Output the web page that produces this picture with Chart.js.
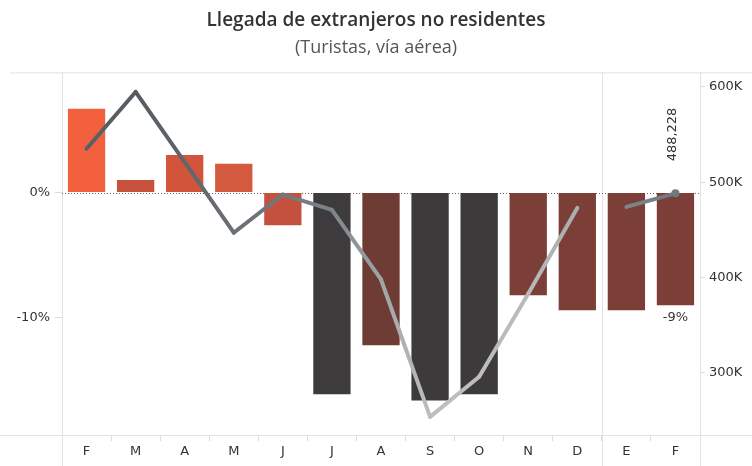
<!DOCTYPE html>
<html>
<head>
<meta charset="utf-8">
<script src="https://cdn.jsdelivr.net/npm/chart.js@4.4.4/dist/chart.umd.min.js"></script>
<style>
  html, body { margin: 0; padding: 0; background: #fff; }
  #wrap { width: 752px; height: 466px; }
</style>
</head>
<body>
<div id="wrap"><canvas id="c" width="752" height="466"></canvas></div>
<script>
// Monthly arrivals of non-resident foreigners by air: YoY change (bars, left axis)
// and total arrivals (line, right axis). Dec/Jan boundary marks the year change.
const months = ['F', 'M', 'A', 'M', 'J', 'J', 'A', 'S', 'O', 'N', 'D', 'E', 'F'];
const variacion = [6.7, 1.0, 3.0, 2.3, -2.6, -16.1, -12.2, -16.6, -16.1, -8.2, -9.4, -9.4, -9];
const llegadasAnt = [535000, 594500, 521000, 447000, 487000, 471000, 398000, 254000, 296000, 383000, 473000, null, null];
const llegadasAct = [null, null, null, null, null, null, null, null, null, null, null, 474000, 488228];
const leftTicks = [0, -10];
const rightTicks = [300000, 400000, 500000, 600000];

const barColors = ['#f2603d', '#c8513b', '#d2553b', '#d35a3e', '#c4513d', '#3e3b3c', '#6e3c35',
                   '#3d3a3b', '#3d3a3b', '#7c3f37', '#7c3f37', '#7c3f37', '#7c3f37'];
const lineColors = ['#596066', '#565c61', '#5f656a', '#6a7075', '#70777b', '#7d858a', '#a0a4a7',
                    '#bdbdbd', '#bdbdbd', '#b8b9ba', '#a9adaf', '#7b868c', '#6f7a80'];

const labelFamily = '"DejaVu Sans", Verdana, sans-serif';
const axisFont = { family: labelFamily, size: 13 };
const canvas = document.getElementById('c');
const g2d = canvas.getContext('2d');

function segGradient(ctx) {
  const g = g2d.createLinearGradient(ctx.p0.x, ctx.p0.y, ctx.p1.x, ctx.p1.y);
  g.addColorStop(0, lineColors[ctx.p0DataIndex]);
  g.addColorStop(1, lineColors[ctx.p1DataIndex]);
  return g;
}

// frame lines, year divider and dotted zero reference
const framePlugin = {
  id: 'frame',
  beforeDatasetsDraw(chart) {
    const { ctx, chartArea, scales } = chart;
    const { left, right, top, bottom } = chartArea;
    const divX = (scales.x.getPixelForValue(10) + scales.x.getPixelForValue(11)) / 2;
    ctx.save();
    ctx.strokeStyle = '#e2e2e2';
    ctx.lineWidth = 1;
    ctx.beginPath();
    ctx.moveTo(10, top + 0.5); ctx.lineTo(752, top + 0.5);
    ctx.moveTo(0, bottom + 0.5); ctx.lineTo(752, bottom + 0.5);
    for (const x of [left, divX, right]) {
      const px = Math.round(x) + 0.5;
      ctx.moveTo(px, top); ctx.lineTo(px, 466);
    }
    ctx.stroke();
    const y0 = Math.round(scales.y.getPixelForValue(0)) + 0.5;
    ctx.strokeStyle = '#7a5a55';
    ctx.setLineDash([1, 2]);
    ctx.beginPath();
    ctx.moveTo(left, y0); ctx.lineTo(right, y0);
    ctx.stroke();
    ctx.restore();
  },
  afterDatasetsDraw(chart) {
    const { ctx } = chart;
    const lineMeta = chart.getDatasetMeta(2);
    const barMeta = chart.getDatasetMeta(0);
    const last = months.length - 1;
    const pt = lineMeta.data[last];
    const bar = barMeta.data[last];
    ctx.save();
    ctx.fillStyle = '#333';
    ctx.font = '13px ' + labelFamily;
    // total for the latest month, written upright above its point
    ctx.translate(pt.x - 3, pt.y - 32);
    ctx.rotate(-Math.PI / 2);
    ctx.textAlign = 'left';
    ctx.textBaseline = 'middle';
    ctx.fillText(llegadasAct[last].toLocaleString('en-US'), 0, 0);
    ctx.setTransform(1, 0, 0, 1, 0, 0);
    ctx.textAlign = 'center';
    ctx.textBaseline = 'top';
    ctx.fillText(Math.round(variacion[last]) + '%', bar.x, bar.y + 6);
    ctx.restore();
  },
};

new Chart(canvas, {
  data: {
    labels: months,
    datasets: [
      {
        type: 'bar', data: variacion, yAxisID: 'y', order: 2,
        backgroundColor: barColors, barPercentage: 0.76, categoryPercentage: 1,
      },
      {
        type: 'line', data: llegadasAnt, yAxisID: 'y1', order: 1,
        borderWidth: 4, pointRadius: 0, tension: 0,
        borderCapStyle: 'round', borderJoinStyle: 'round',
        segment: { borderColor: segGradient },
      },
      {
        type: 'line', data: llegadasAct, yAxisID: 'y1', order: 0,
        borderWidth: 4, tension: 0, borderCapStyle: 'round', borderJoinStyle: 'round',
        segment: { borderColor: segGradient },
        pointRadius: months.map((m, i) => (i === months.length - 1 ? 4 : 0)),
        pointBackgroundColor: '#6f7a80', pointBorderWidth: 0,
      },
    ],
  },
  options: {
    responsive: false,
    animation: false,
    layout: { padding: 0 },
    plugins: {
      legend: { display: false },
      tooltip: { enabled: false },
      title: {
        display: true,
        text: 'Llegada de extranjeros no residentes',
        color: '#333',
        font: { family: '"Open Sans", sans-serif', size: 19, weight: '600' },
        padding: { top: 9, bottom: 5 },
      },
      subtitle: {
        display: true,
        text: '(Turistas, vía aérea)',
        color: '#555',
        font: { family: '"Open Sans", sans-serif', size: 18 },
        padding: { top: 0, bottom: 14 },
      },
    },
    scales: {
      x: {
        offset: true,
        border: { display: false },
        grid: { offset: true, drawOnChartArea: false, tickLength: 6, color: '#dcdcdc' },
        ticks: { color: '#333', font: axisFont, padding: 3, maxRotation: 0, autoSkip: false },
        afterFit(s) { s.height = 31; },
      },
      y: {
        position: 'left',
        min: -19.36, max: 9.6,
        border: { display: false },
        grid: { drawOnChartArea: false, tickLength: 7, color: '#dcdcdc' },
        afterBuildTicks(s) { s.ticks = leftTicks.map((v) => ({ value: v })); },
        ticks: { color: '#333', font: axisFont, padding: 5, callback: (v) => v + '%' },
        afterFit(s) { s.width = 62; },
      },
      y1: {
        position: 'right',
        min: 235000, max: 615000,
        border: { display: false },
        grid: { drawOnChartArea: false, tickLength: 5, color: '#dcdcdc' },
        afterBuildTicks(s) { s.ticks = rightTicks.map((v) => ({ value: v })); },
        ticks: { color: '#333', font: axisFont, padding: 4, callback: (v) => v / 1000 + 'K' },
        afterFit(s) { s.width = 52; },
      },
    },
  },
  plugins: [framePlugin],
});
</script>
</body>
</html>
